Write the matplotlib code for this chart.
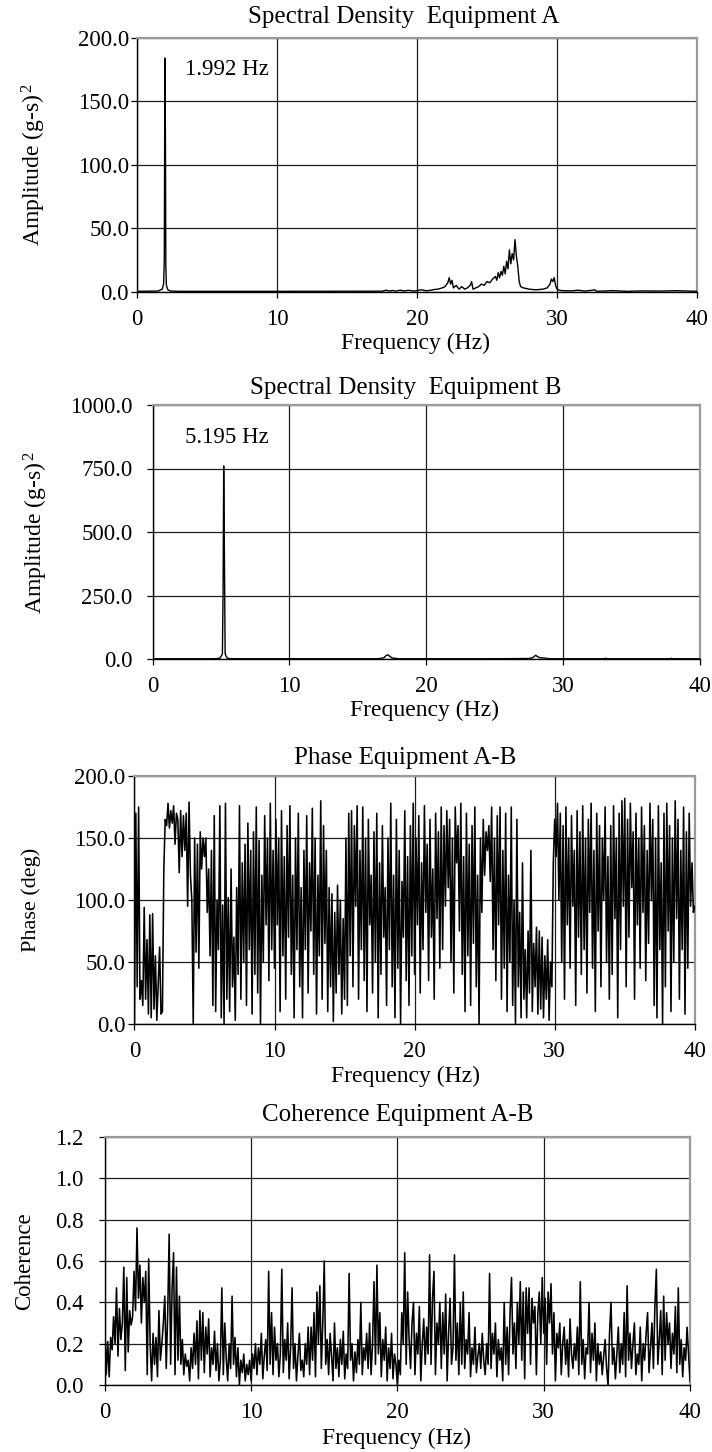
import numpy as np
import matplotlib
matplotlib.use("Agg")
import matplotlib.pyplot as plt

plt.rcParams['font.family'] = ['Liberation Serif', 'DejaVu Serif']
plt.rcParams['mathtext.fontset'] = 'custom'
plt.rcParams['mathtext.rm'] = 'Liberation Serif'
plt.rcParams['mathtext.it'] = 'Liberation Serif:italic'

# ---------------- data ----------------
psd_a_freq = [0, 1.5, 1.8, 1.9, 1.95, 1.992, 2.03, 2.06, 2.1, 2.2, 2.4, 3.0, 10,
              17.5, 17.8, 18.0, 18.3, 18.5, 18.8, 19.0, 19.4, 19.8, 20.0, 20.3, 20.7, 21.0, 21.3, 21.5, 21.8,
              22.0, 22.2, 22.3, 22.4, 22.5, 22.6, 22.8, 23.0, 23.2, 23.4, 23.6, 23.8, 23.9, 24.0, 24.2, 24.4, 24.6,
              24.8, 25.0, 25.2, 25.4, 25.6, 25.7, 25.8, 25.9, 26.0, 26.1, 26.2, 26.3, 26.4, 26.5, 26.6, 26.7, 26.8,
              26.9, 27.0, 27.1, 27.2, 27.3, 27.4, 27.6, 28.0, 28.5, 29.0, 29.3, 29.5, 29.6, 29.7, 29.8, 29.9, 30.0,
              30.2, 30.5, 31.0, 31.5, 32.0, 32.4, 32.7, 32.8, 33.0, 34.0, 35.0, 36.0, 37.5, 38.5, 40]
psd_a_val = [0.3, 0.5, 2, 6, 25, 184, 125, 20, 5, 1.5, 0.5, 0.3, 0.3,
             0.4, 1.2, 0.5, 1.0, 0.4, 1.3, 0.6, 1.1, 0.5, 0.9, 1.5, 0.7, 1.2, 1.8, 2, 3,
             4, 7, 11, 6, 9, 3, 5, 2, 4, 2, 3, 5, 8, 2, 3, 4, 6,
             5, 8, 7, 10, 12, 9, 15, 11, 16, 13, 20, 14, 24, 18, 33, 22, 30,
             25, 41, 28, 20, 8, 4, 3, 2, 1.5, 2, 3, 6, 10, 8, 11, 5, 2,
             1, 0.8, 0.6, 1.2, 0.5, 1.0, 1.5, 0.5, 0.4, 0.8, 0.3, 0.6, 0.5, 0.8, 0.3]

psd_b_freq = [0, 4.5, 4.9, 5.0, 5.1, 5.15, 5.195, 5.25, 5.3, 5.4, 5.5, 6.0, 10, 16.5, 16.9, 17.1, 17.2, 17.3,
              17.5, 18, 25, 27.5, 27.8, 28.0, 28.1, 28.3, 28.6, 29, 33.0, 33.1, 33.2, 37.8, 37.9, 38.0, 40]
psd_b_val = [1, 1, 3, 10, 20, 260, 760, 400, 20, 8, 2, 1, 1, 1, 5, 15, 16, 12,
             4, 1, 1, 2, 6, 15, 10, 5, 4, 1, 1, 3, 1, 1, 3, 1, 1]

freq_grid = np.linspace(0, 40, 401)

phase_deg = [
    0, 170, 30, 175, 20, 35, 15, 94, 20, 68, 8, 88, 5, 89, 12, 55, 3, 32, 62, 8,
    10, 125, 165, 160, 178, 158, 172, 162, 176, 145, 170, 165, 122, 172, 135, 168, 140, 170, 95, 179,
    120, 100, 0, 150, 58, 145, 45, 155, 125, 150, 135, 150, 90, 125, 55, 140, 15, 168, 10, 100,
    60, 176, 5, 96, 0, 178, 20, 102, 10, 125, 30, 70, 3, 110, 40, 176, 20, 130, 50, 145,
    15, 162, 60, 140, 8, 155, 40, 175, 25, 148, 0, 120, 50, 168, 80, 150, 35, 178, 60, 140,
    45, 165, 80, 150, 10, 172, 55, 135, 20, 160, 70, 176, 40, 120, 5, 150, 60, 170, 30, 110,
    5, 140, 60, 168, 25, 130, 75, 174, 40, 150, 8, 120, 55, 180, 20, 160, 65, 140, 10, 110,
    30, 105, 2, 90, 25, 112, 40, 100, 8, 85, 20, 150, 15, 170, 55, 172, 30, 160, 95, 176,
    20, 140, 60, 175, 35, 150, 10, 165, 80, 120, 25, 155, 50, 170, 5, 130, 40, 160, 70, 110,
    15, 150, 60, 178, 30, 120, 5, 165, 45, 140, 0, 115, 70, 172, 35, 135, 15, 160, 55, 178,
    40, 150, 80, 168, 25, 130, 60, 176, 90, 145, 35, 165, 70, 125, 20, 170, 85, 155, 45, 175,
    60, 160, 95, 172, 110, 165, 50, 150, 25, 175, 130, 160, 75, 178, 40, 135, 10, 170, 55, 145,
    15, 160, 65, 175, 30, 120, 0, 150, 90, 165, 120, 155, 140, 160, 115, 175, 60, 150, 35, 168,
    80, 175, 20, 140, 45, 170, 10, 120, 50, 175, 15, 100, 0, 165, 30, 90, 5, 130, 20, 60,
    5, 75, 25, 140, 10, 65, 30, 78, 8, 75, 12, 70, 5, 55, 20, 68, 3, 50, 30, 130,
    165, 135, 178, 100, 170, 50, 160, 20, 175, 80, 150, 45, 168, 95, 140, 15, 172, 70, 155, 40,
    176, 60, 150, 25, 165, 90, 178, 45, 140, 10, 170, 75, 160, 30, 150, 100, 175, 50, 135, 20,
    160, 40, 176, 85, 150, 5, 170, 60, 180, 95, 182, 30, 165, 70, 178, 110, 155, 20, 170, 80,
    150, 45, 175, 90, 160, 35, 140, 65, 178, 100, 165, 15, 150, 5, 176, 60, 130, 0, 170, 30,
    178, 75, 160, 10, 150, 50, 180, 85, 165, 20, 140, 60, 175, 8, 155, 45, 170, 95, 130, 90,
    95]

coherence = [
    0.28, 0.05, 0.21, 0.04, 0.23, 0.17, 0.33, 0.20, 0.47, 0.14, 0.37, 0.22, 0.30, 0.57, 0.07, 0.52, 0.16, 0.36, 0.29, 0.33,
    0.55, 0.36, 0.76, 0.42, 0.58, 0.30, 0.52, 0.40, 0.55, 0.05, 0.61, 0.20, 0.02, 0.25, 0.10, 0.23, 0.04, 0.36, 0.12, 0.20,
    0.30, 0.43, 0.08, 0.35, 0.73, 0.10, 0.47, 0.64, 0.05, 0.57, 0.12, 0.43, 0.10, 0.22, 0.05, 0.15, 0.09, 0.12, 0.02, 0.18,
    0.08, 0.25, 0.10, 0.31, 0.03, 0.36, 0.12, 0.35, 0.06, 0.28, 0.15, 0.32, 0.04, 0.18, 0.10, 0.26, 0.07, 0.20, 0.02, 0.12,
    0.47, 0.05, 0.30, 0.13, 0.02, 0.20, 0.08, 0.43, 0.10, 0.23, 0.04, 0.18, 0.00, 0.12, 0.06, 0.15, 0.02, 0.10, 0.05, 0.12,
    0.02, 0.15, 0.08, 0.20, 0.05, 0.18, 0.10, 0.25, 0.03, 0.14, 0.22, 0.07, 0.55, 0.10, 0.35, 0.05, 0.28, 0.12, 0.20, 0.04,
    0.15, 0.56, 0.06, 0.22, 0.12, 0.30, 0.03, 0.18, 0.47, 0.08, 0.20, 0.02, 0.14, 0.25, 0.07, 0.12, 0.04, 0.20, 0.10, 0.28,
    0.05, 0.28, 0.12, 0.35, 0.04, 0.45, 0.20, 0.48, 0.08, 0.30, 0.60, 0.10, 0.22, 0.05, 0.25, 0.14, 0.02, 0.30, 0.08, 0.18,
    0.04, 0.22, 0.10, 0.26, 0.03, 0.15, 0.08, 0.54, 0.12, 0.20, 0.02, 0.16, 0.06, 0.22, 0.10, 0.40, 0.05, 0.18, 0.12, 0.25,
    0.08, 0.30, 0.05, 0.20, 0.50, 0.10, 0.58, 0.15, 0.35, 0.04, 0.22, 0.12, 0.28, 0.02, 0.18, 0.08, 0.25, 0.03, 0.15, 0.10,
    0.00, 0.12, 0.05, 0.35, 0.20, 0.64, 0.10, 0.45, 0.22, 0.08, 0.30, 0.40, 0.05, 0.25, 0.15, 0.38, 0.02, 0.20, 0.32, 0.10,
    0.28, 0.15, 0.63, 0.10, 0.42, 0.55, 0.05, 0.30, 0.20, 0.40, 0.08, 0.35, 0.15, 0.44, 0.02, 0.25, 0.42, 0.10, 0.18, 0.63,
    0.12, 0.30, 0.05, 0.40, 0.10, 0.45, 0.08, 0.22, 0.15, 0.35, 0.04, 0.18, 0.10, 0.28, 0.06, 0.14, 0.20, 0.08, 0.25, 0.12,
    0.05, 0.20, 0.10, 0.54, 0.08, 0.25, 0.15, 0.30, 0.04, 0.22, 0.12, 0.18, 0.02, 0.40, 0.10, 0.28, 0.05, 0.35, 0.52, 0.15,
    0.30, 0.08, 0.40, 0.20, 0.50, 0.12, 0.45, 0.03, 0.47, 0.25, 0.47, 0.10, 0.42, 0.30, 0.38, 0.05, 0.35, 0.45, 0.20, 0.52,
    0.25, 0.42, 0.10, 0.45, 0.30, 0.49, 0.15, 0.35, 0.02, 0.25, 0.18, 0.30, 0.05, 0.20, 0.28, 0.10, 0.22, 0.04, 0.32, 0.15,
    0.08, 0.20, 0.12, 0.28, 0.05, 0.50, 0.10, 0.22, 0.03, 0.18, 0.15, 0.40, 0.06, 0.25, 0.12, 0.30, 0.02, 0.20, 0.10, 0.16,
    0.05, 0.14, 0.22, 0.08, 0.00, 0.25, 0.40, 0.10, 0.18, 0.03, 0.15, 0.28, 0.06, 0.20, 0.10, 0.35, 0.04, 0.48, 0.12, 0.25,
    0.08, 0.20, 0.30, 0.05, 0.15, 0.10, 0.28, 0.02, 0.20, 0.12, 0.25, 0.35, 0.06, 0.18, 0.30, 0.08, 0.38, 0.56, 0.10, 0.22,
    0.36, 0.05, 0.43, 0.12, 0.35, 0.20, 0.30, 0.08, 0.25, 0.15, 0.38, 0.06, 0.47, 0.10, 0.22, 0.04, 0.18, 0.12, 0.28, 0.15,
    0.02]

x_ticks = [0, 10, 20, 30, 40]
titles = ["Spectral Density  Equipment A", "Spectral Density  Equipment B",
          "Phase Equipment A-B", "Coherence Equipment A-B"]
ylabels = [r"Amplitude (g-s)$^{\,2}$", r"Amplitude (g-s)$^{\,2}$", "Phase (deg)", "Coherence"]
xlabel = "Frequency (Hz)"

# ---------------- layout (pixels) ----------------
W, H = 712, 1452
fig = plt.figure(figsize=(W / 100, H / 100), dpi=100)

boxes = [(137, 37.7, 697, 291.7), (152.6, 405, 700, 659),
         (134.4, 776, 694.8, 1024), (104.8, 1137, 690, 1385)]
title_pos = [(404, 16.7), (406, 388), (405, 758), (398, 1115)]
xlabel_pos = [(415, 343), (424, 710), (405, 1076), (396, 1438)]
ylabel_x = [34, 36.4, 31, 25]
ylabel_size = [17, 17, 16, 16.5]
ytick_pad = [1.4, 10, 2.2, 10.8]

ylims = [(0, 200), (0, 1000), (0, 200), (0, 1.2)]
yticks = [np.arange(0, 201, 50), np.arange(0, 1001, 250), np.arange(0, 201, 50), np.arange(0, 1.21, 0.2)]
yfmt = ["{:.1f}", "{:.1f}", "{:.1f}", "{:.1f}"]

series = [(psd_a_freq, psd_a_val, 1.0), (psd_b_freq, psd_b_val, 1.0),
          (freq_grid, phase_deg, 1.15), (freq_grid, coherence, 1.15)]

for i in range(4):
    l, t, r, b = boxes[i]
    ax = fig.add_axes([l / W, 1 - b / H, (r - l) / W, (b - t) / H])
    xs, ys, lw = series[i]
    ax.plot(xs, ys, color='black', lw=lw, zorder=3)
    ax.set_xlim(0, 40)
    ax.set_ylim(*ylims[i])
    ax.set_xticks(x_ticks)
    ax.set_xticklabels([str(v) for v in x_ticks])
    ax.set_yticks(yticks[i])
    ax.set_yticklabels([yfmt[i].format(v) for v in yticks[i]])
    ax.grid(True, color='#1e1e1e', lw=0.9, zorder=1)
    ax.set_axisbelow(True)
    for s in ['left', 'bottom']:
        ax.spines[s].set_color('black')
        ax.spines[s].set_linewidth(1.0)
    for s in ['top', 'right']:
        ax.spines[s].set_color('#9a9a9a')
        ax.spines[s].set_linewidth(1.6)
    ax.tick_params(axis='both', direction='out', length=4.3, width=0.9, color='black', labelsize=16.5)
    ax.tick_params(axis='x', pad=8.0)
    ax.tick_params(axis='y', pad=ytick_pad[i])
    ax.set_ylabel(ylabels[i], fontsize=ylabel_size[i], va='center')
    ax.yaxis.set_label_coords((ylabel_x[i] - l) / (r - l), 0.5)
    ax.set_xlabel(xlabel, fontsize=17, va='center')
    xlx, xly = xlabel_pos[i]
    ax.xaxis.set_label_coords((xlx - l) / (r - l), -(xly - b) / (b - t))
    tx, ty = title_pos[i]
    fig.text(tx / W, 1 - ty / H, titles[i], fontsize=18, ha='center', va='center')
    if i == 0:
        ax.text(3.4, 175, "1.992 Hz", fontsize=16.5, ha='left', va='center')
    if i == 1:
        ax.text(2.4, 874, "5.195 Hz", fontsize=16.5, ha='left', va='center')

fig.savefig("out.png", dpi=100, facecolor='white')
